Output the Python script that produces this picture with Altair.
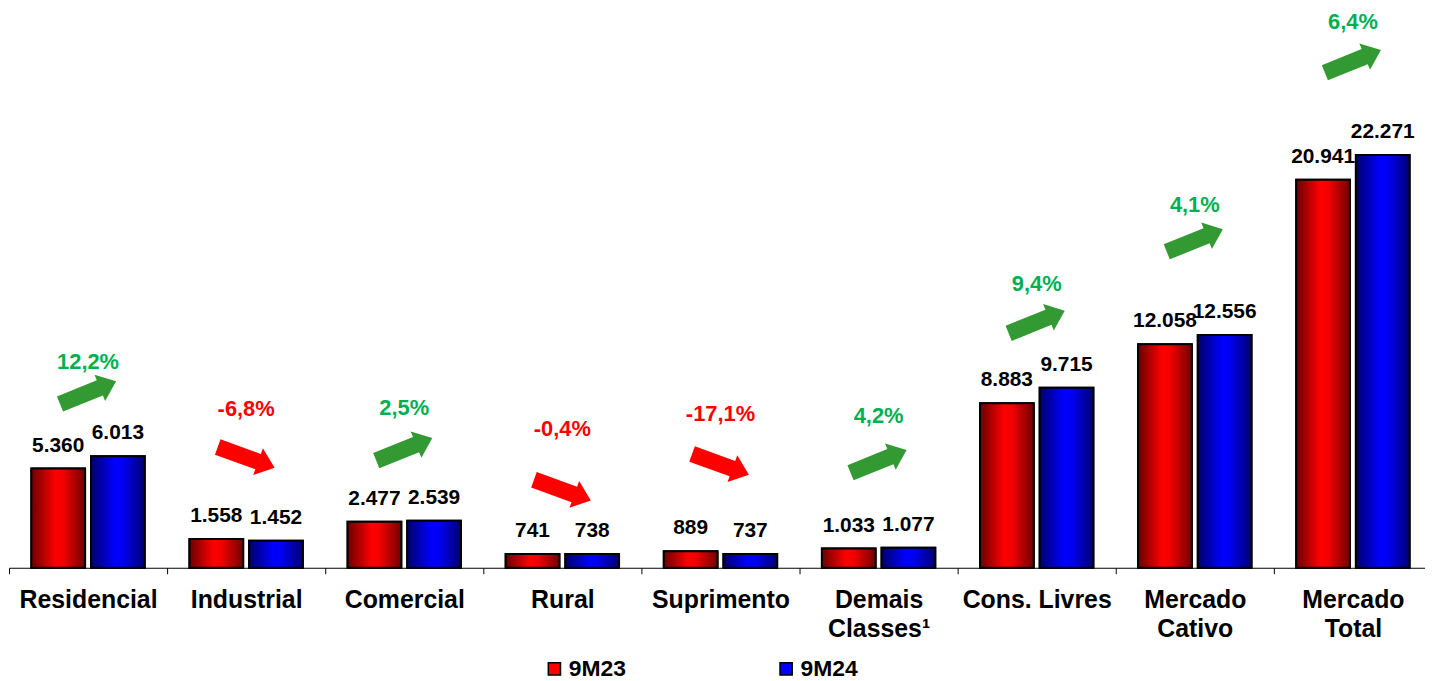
import altair as alt
import pandas as pd

categories = ["Residencial", "Industrial", "Comercial", "Rural", "Suprimento",
              "Demais\nClasses¹", "Cons. Livres", "Mercado\nCativo", "Mercado\nTotal"]
series = ["9M23", "9M24"]
values_9m23 = [5360, 1558, 2477, 741, 889, 1033, 8883, 12058, 20941]
values_9m24 = [6013, 1452, 2539, 738, 737, 1077, 9715, 12556, 22271]
growth_pct = [12.2, -6.8, 2.5, -0.4, -17.1, 4.2, 9.4, 4.1, 6.4]
# annotation heights (in data units) for the arrows and the growth labels
arrow_level = [9450, 5960, 6390, 4190, 5580, 5740, 13260, 17660, 27320]
growth_label_level = [11110, 8590, 8640, 7460, 8270, 8210, 15300, 19590, 29470]

FONT = "Liberation Sans"

rows = []
for c, a, b in zip(categories, values_9m23, values_9m24):
    rows.append({"cat": c, "series": "9M23", "value": a, "label": f"{a:,}".replace(",", ".")})
    rows.append({"cat": c, "series": "9M24", "value": b, "label": f"{b:,}".replace(",", ".")})
df = pd.DataFrame(rows)

ann = pd.DataFrame({
    "cat": categories,
    "growth": growth_pct,
    "arrow_y": arrow_level,
    "text_y": growth_label_level,
})
ann["gtext"] = ann["growth"].map(lambda g: f"{g:.1f}".replace(".", ",") + "%")
ann["arrow_color"] = ann["growth"].map(lambda g: "#339933" if g >= 0 else "#ff0000")
ann["text_color"] = ann["growth"].map(lambda g: "#00b050" if g >= 0 else "#ff0000")
ann["angle"] = ann["growth"].map(lambda g: 338 if g >= 0 else 20)

red_grad = {"gradient": "linear", "x1": 0, "x2": 1, "y1": 0, "y2": 0,
            "stops": [{"offset": 0, "color": "#6a0000"},
                      {"offset": 0.45, "color": "#ff0000"},
                      {"offset": 0.6, "color": "#f20000"},
                      {"offset": 1, "color": "#700000"}]}
blue_grad = {"gradient": "linear", "x1": 0, "x2": 1, "y1": 0, "y2": 0,
             "stops": [{"offset": 0, "color": "#00006a"},
                       {"offset": 0.45, "color": "#0000ff"},
                       {"offset": 0.6, "color": "#0000f2"},
                       {"offset": 1, "color": "#000070"}]}

x_scale = alt.Scale(paddingInner=0, paddingOuter=0, range=[1, 1432])
x_enc = alt.X("cat:N", sort=categories, title=None, scale=x_scale,
              axis=alt.Axis(labelAngle=0, tickBand="extent", tickSize=6, tickColor="black",
                            domainColor="black", domainWidth=1, tickWidth=1,
                            labelFont=FONT, labelFontWeight="bold", labelFontSize=25,
                            labelColor="black", labelPadding=14, labelLineHeight=29,
                            labelExpr="split(datum.label, '\\n')", grid=False))
x_plain = alt.X("cat:N", sort=categories, scale=x_scale)
xoff = alt.XOffset("series:N", sort=series,
                   scale=alt.Scale(paddingInner=0.1, paddingOuter=0.375))
y_scale = alt.Scale(domain=[0, 30100], nice=False)
y_enc = alt.Y("value:Q", scale=y_scale, axis=None)

base = alt.Chart(df)

legend_bars = base.mark_bar(stroke="black", strokeWidth=2).encode(
    x=x_enc, xOffset=xoff, y=y_enc,
    color=alt.Color("series:N", sort=series,
                    scale=alt.Scale(domain=series, range=["#ff0000", "#0000ff"]),
                    legend=alt.Legend(orient="none", legendX=538, legendY=651,
                                      direction="horizontal", title=None,
                                      symbolType="square", symbolSize=150,
                                      symbolStrokeColor="black", symbolStrokeWidth=1.5,
                                      labelFont=FONT, labelFontWeight="bold",
                                      labelFontSize=23, labelColor="black",
                                      columnPadding=149, labelOffset=3)),
)

red_bars = base.transform_filter(alt.datum.series == "9M23").mark_bar(
    fill=red_grad, stroke="black", strokeWidth=2).encode(x=x_plain, xOffset=xoff, y=y_enc)
blue_bars = base.transform_filter(alt.datum.series == "9M24").mark_bar(
    fill=blue_grad, stroke="black", strokeWidth=2).encode(x=x_plain, xOffset=xoff, y=y_enc)

value_labels = base.mark_text(font=FONT, fontWeight="bold", fontSize=21, color="black",
                              baseline="bottom", dy=-13).encode(
    x=x_plain, xOffset=xoff, y=y_enc, text="label:N")

arrow_path = "M -1 -0.27 L 0.42 -0.27 L 0.42 -0.47 L 1 0 L 0.42 0.47 L 0.42 0.27 L -1 0.27 Z"
arrows = alt.Chart(ann).mark_point(shape=arrow_path, filled=True, size=3700,
                                   strokeWidth=0, opacity=1).encode(
    x=x_plain,
    y=alt.Y("arrow_y:Q", scale=y_scale),
    fill=alt.Fill("arrow_color:N", scale=None),
    angle=alt.Angle("angle:Q", scale=None),
)

growth_text = alt.Chart(ann).mark_text(font=FONT, fontWeight="bold", fontSize=22).encode(
    x=x_plain,
    y=alt.Y("text_y:Q", scale=y_scale),
    text="gtext:N",
    fill=alt.Fill("text_color:N", scale=None),
)

chart = alt.layer(legend_bars, red_bars, blue_bars, value_labels, arrows, growth_text).properties(
    width=1425, height=561, background="white",
    autosize=alt.AutoSizeParams(type="none"),
    padding={"left": 0, "right": 0, "top": 0, "bottom": 120},
).configure_view(strokeWidth=0)

chart.save("out.html", embed_options={"renderer": "svg", "actions": False})
